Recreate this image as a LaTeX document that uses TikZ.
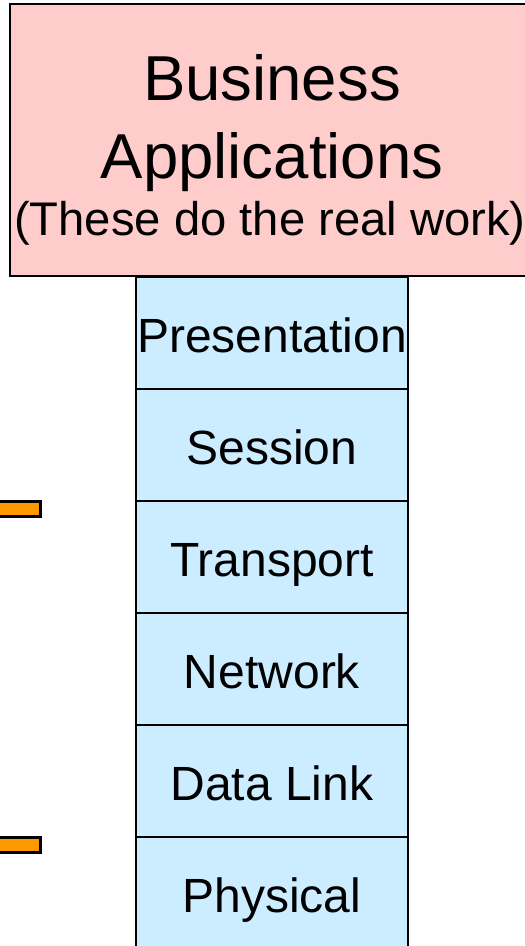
\documentclass[tikz,border=0pt]{standalone}
\usepackage{fontspec}
\setmainfont{Liberation Sans}
\definecolor{pinkfill}{HTML}{FFCCCC}
\definecolor{bluefill}{HTML}{CCECFF}
\definecolor{orangefill}{HTML}{FF9900}
\begin{document}
\begin{tikzpicture}[x=1pt,y=-1pt,
  layer/.style={draw=black,line width=2pt,fill=bluefill,rectangle,minimum width=272pt,minimum height=112pt,inner sep=0pt},
  layertext/.style={anchor=base,inner sep=0pt,font=\fontsize{48}{57}\selectfont},
  tick/.style={line width=3pt,fill=orangefill}]
\useasboundingbox (0,0) rectangle (525,946);
\node[draw=black,line width=2pt,fill=pinkfill,rectangle,minimum width=518pt,minimum height=272pt,inner sep=0pt] (app) at (269,140) {};
\node[anchor=base,inner sep=0pt,font=\fontsize{63.5}{76}\selectfont] (t1) at (272,100) {Business};
\node[anchor=base,inner sep=0pt,font=\fontsize{63.5}{76}\selectfont] (t2) at (272,178) {Applications};
\node[anchor=base west,inner sep=0pt,font=\fontsize{47.2}{56}\selectfont] (t3) at (14,235) {(These do the real work)};
\node[layer] (pres) at (272,333) {};
\node[layer] (sess) at (272,445) {};
\node[layer] (tran) at (272,557) {};
\node[layer] (netw) at (272,669) {};
\node[layer] (dlink) at (272,781) {};
\node[layer] (phys) at (272,893) {};
\node[layertext] (lp) at (272,352) {Presentation};
\node[layertext] (ls) at (272,464) {Session};
\node[layertext] (lt) at (272,576) {Transport};
\node[layertext] (ln) at (272,688) {Network};
\node[layertext] (ld) at (272,800) {Data Link};
\node[layertext] (lph) at (272,912) {Physical};
\draw[tick] (-6,501.5) rectangle (40.5,516.5);
\draw[tick] (-6,837.5) rectangle (40.5,852.5);
\end{tikzpicture}
\end{document}
